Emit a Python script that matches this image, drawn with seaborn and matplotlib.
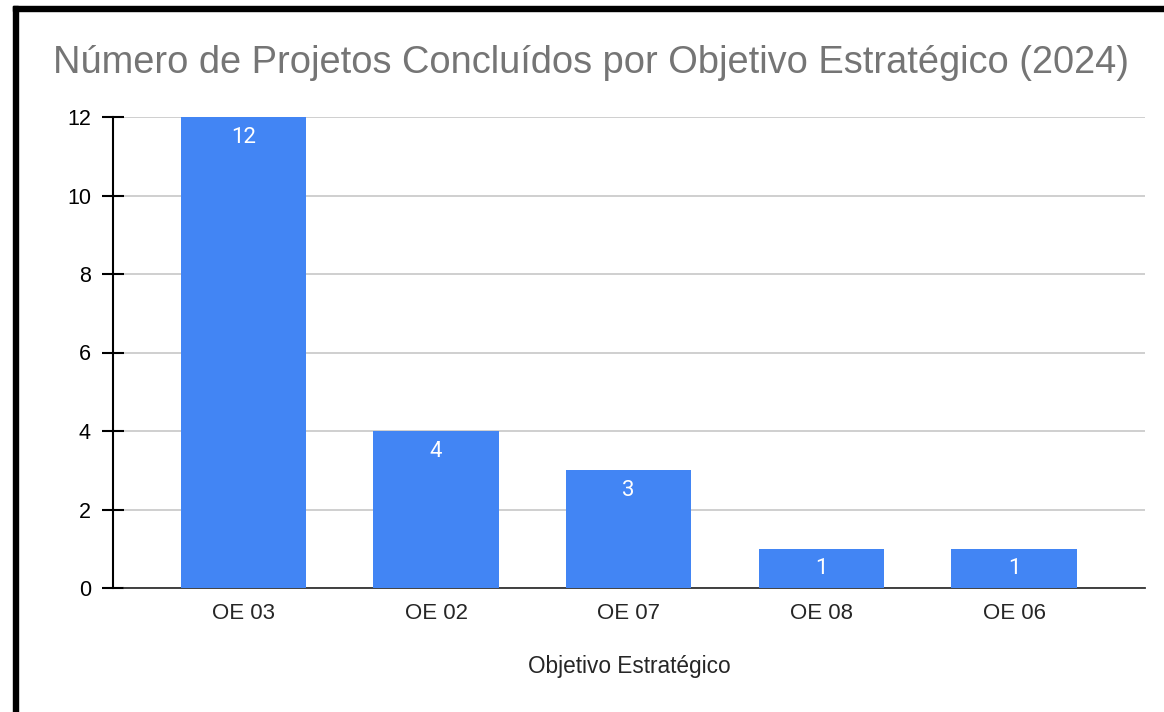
import seaborn as sns
import matplotlib.pyplot as plt
from matplotlib.patches import Rectangle

# data
objetivos = ["OE 03", "OE 02", "OE 07", "OE 08", "OE 06"]
projetos = [12, 4, 3, 1, 1]
y_ticks = [0, 2, 4, 6, 8, 10, 12]

sns.set_style("white")
plt.rcParams['font.family'] = ['Liberation Sans', 'DejaVu Sans']

fig = plt.figure(figsize=(11.64, 7.12), dpi=100)
ax = fig.add_axes([124/1164, 1-588/712, (1145-124)/1164, (588-117)/712])

sns.barplot(x=objetivos, y=projetos, color="#4285F4", saturation=1,
            width=0.65, linewidth=0, edgecolor="none", ax=ax, zorder=3)

ax.set_xlim(-0.62, 4.68)
ax.set_ylim(0, 12)
ax.set_yticks(y_ticks)
ax.yaxis.grid(True, color="#cccccc", linewidth=1.3, zorder=0)
ax.set_axisbelow(True)

for s in ["top", "right"]:
    ax.spines[s].set_visible(False)
ax.spines["bottom"].set_color("#333333")
ax.spines["bottom"].set_linewidth(1.3)
ax.spines["left"].set_position(("outward", 7.9))
ax.spines["left"].set_color("black")
ax.spines["left"].set_linewidth(1.5)
ax.tick_params(axis="y", left=True, direction="inout", length=15.8, width=1.5,
               labelsize=15.5, pad=8, colors="black")
ax.tick_params(axis="x", bottom=False, labelsize=16, pad=7)

# value labels inside the top of each bar
for i, v in enumerate(projetos):
    ax.annotate(str(v), (i, v), xytext=(0, -14.5), textcoords="offset points",
                ha="center", va="center", color="white", fontsize=16,
                family="Roboto", zorder=4)

ax.set_xlabel("Objetivo Estratégico", fontsize=16.3)
ax.xaxis.set_label_coords(0.4946, -0.142)
ax.set_ylabel("")

fig.text(53/1164, 1-63/712, "Número de Projetos Concluídos por Objetivo Estratégico (2024)",
         fontsize=27.4, color="#757575", ha="left", va="center")

# black frame on top and left edges of the screenshot
fig.patches.append(Rectangle((13/1164, 1-11/712), 1, 5/712, transform=fig.transFigure,
                             color="black", zorder=10))
fig.patches.append(Rectangle((13/1164, 0), 5/1164, 1-6/712, transform=fig.transFigure,
                             color="black", zorder=10))

fig.savefig("out.png", dpi=100)
